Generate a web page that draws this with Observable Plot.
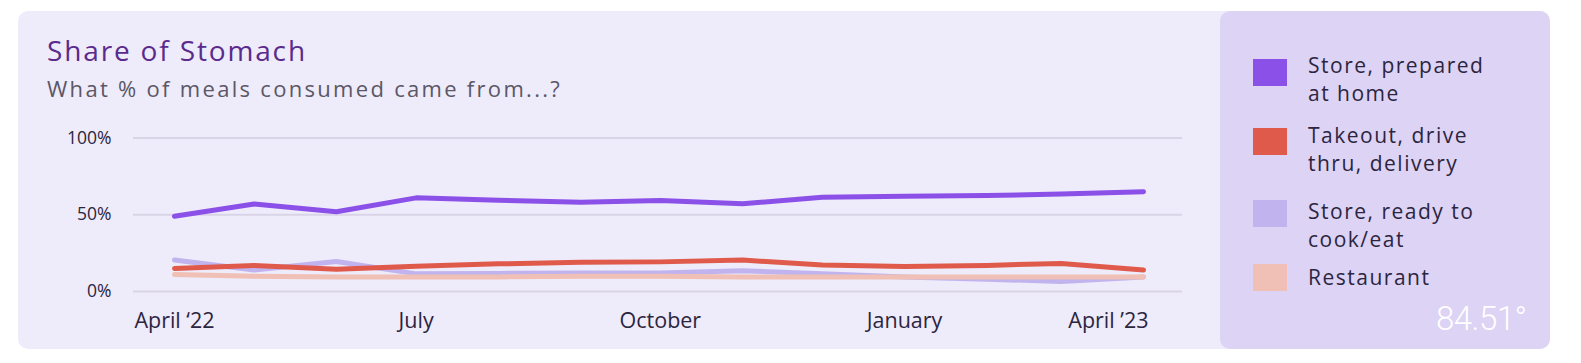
<!DOCTYPE html>
<html>
<head>
<meta charset="utf-8">
<script src="https://cdn.jsdelivr.net/npm/d3@7"></script>
<script src="https://cdn.jsdelivr.net/npm/@observablehq/plot@0.6"></script>
<style>
  html, body { margin: 0; padding: 0; background: #ffffff; }
  body { width: 1581px; height: 363px; position: relative; overflow: hidden; font-family: "Open Sans", Lato, sans-serif; }
  .card { position: absolute; left: 18px; top: 11px; width: 1532px; height: 338px; border-radius: 10px; background: #EEEBFA; }
  .legendPanel { position: absolute; left: 1220px; top: 11px; width: 330px; height: 338px; border-radius: 10px; background: #DDD3F5; }
  .title { position: absolute; left: 47px; top: 35px; font-size: 28px; line-height: 30px; color: #5A2A8C; letter-spacing: 1.85px; }
  .subtitle { position: absolute; left: 47px; top: 75px; font-size: 22px; line-height: 26px; color: #5B5766; letter-spacing: 2.3px; }
  #chart { position: absolute; left: 0; top: 0; }
  .lg { position: absolute; left: 1253px; }
  .sw { position: absolute; left: 0; width: 34px; height: 27px; }
  .lt { position: absolute; left: 55px; width: 260px; font-size: 21px; line-height: 28px; color: #2B2540; letter-spacing: 1.5px; white-space: pre-line; }
  .logo { position: absolute; left: 1436px; top: 301px; font-family: Roboto, sans-serif; font-weight: 300; font-size: 33px; line-height: 36px; color: #ffffff; letter-spacing: -0.5px; }
</style>
</head>
<body>
<div class="card"></div>
<div class="legendPanel"></div>
<div class="title" id="title"></div>
<div class="subtitle" id="subtitle"></div>
<div id="chart"></div>
<div id="legend"></div>
<div class="logo" id="logo"></div>
<script>
// ---- data ----
const titleText = "Share of Stomach";
const subtitleText = "What % of meals consumed came from...?";
const months = ["2022-04-01","2022-05-01","2022-06-01","2022-07-01","2022-08-01","2022-09-01","2022-10-01","2022-11-01","2022-12-01","2023-01-01","2023-02-01","2023-03-01","2023-04-01"];
const seriesNames = ["Store, prepared\nat home", "Takeout, drive\nthru, delivery", "Store, ready to\ncook/eat", "Restaurant"];
const seriesColors = ["#8A50E8", "#DF5A4A", "#C1B3EE", "#F0BFB6"];
const storePrepared = [49, 57, 52, 61, 59.5, 58.2, 59.3, 57.1, 61.4, 62, 62.5, 63.5, 65];
const takeout = [15, 17, 14.5, 16.5, 18, 19, 19.3, 20.5, 17.2, 16.3, 17, 18.3, 14];
const readyToEat = [20.5, 14, 19.5, 11.5, 11.8, 12, 12, 13.5, 11.5, 9.5, 8, 6.5, 9.5];
const restaurant = [11, 10, 9.5, 9.5, 9.5, 10, 10, 9.5, 9.5, 9.5, 9.5, 9.5, 9.5];
const yTicks = [0, 50, 100];
const xTickDates = ["2022-04-01", "2022-07-01", "2022-10-01", "2023-01-01"];
const xTickLabels = ["April \u201822", "July", "October", "January"];
const xLastTickDate = ["2023-04-01"];
const xLastTickLabel = ["April \u201923"];
const logoText = "84.51\u00B0";

document.getElementById("title").textContent = titleText;
document.getElementById("subtitle").textContent = subtitleText;
document.getElementById("logo").textContent = logoText;

const parse = d3.utcParse("%Y-%m-%d");
const dates = months.map(parse);
const allValues = [storePrepared, takeout, readyToEat, restaurant];
const table = (vals, name) => vals.map((v, i) => ({date: dates[i], value: v, series: name}));
const tables = allValues.map((v, i) => table(v, seriesNames[i]));
const drawOrder = [2, 3, 1, 0];

const fontFamily = "'Open Sans', Lato, sans-serif";
const chart = Plot.plot({
  width: 1220,
  height: 363,
  marginLeft: 133,
  marginRight: 38,
  marginTop: 137.5,
  marginBottom: 72,
  style: { background: "transparent", fontFamily, fontSize: "17px", color: "#2B2540", overflow: "visible" },
  x: { type: "utc", domain: [dates[0], dates[dates.length - 1]], insetLeft: 41, insetRight: 39, axis: null },
  y: { domain: [0, 100], axis: null },
  color: { domain: seriesNames, range: seriesColors },
  marks: [
    Plot.ruleY(yTicks, { stroke: "#D9D5E6", strokeWidth: 2 }),
    Plot.axisY(yTicks, { tickSize: 0, tickPadding: 22, tickFormat: d => d + "%", label: null, fontSize: 17.5, fill: "#2B2540" }),
    ...drawOrder.map(i => Plot.line(tables[i], {
      x: "date", y: "value", stroke: "series",
      strokeWidth: 5, strokeLinecap: "round", strokeLinejoin: "round"
    })),
    Plot.text(xTickDates.map(parse), {
      x: d => d, text: (d, i) => xTickLabels[i], frameAnchor: "bottom", dy: 36,
      textAnchor: "middle", fontSize: 21.5, letterSpacing: 1.8, fill: "#2B2540"
    }),
    Plot.text(xLastTickDate.map(parse), {
      x: d => d, text: (d, i) => xLastTickLabel[i], frameAnchor: "bottom", dy: 36,
      textAnchor: "end", dx: 5, fontSize: 21.5, letterSpacing: 1.8, fill: "#2B2540"
    })
  ]
});
document.getElementById("chart").appendChild(chart);

// legend (HTML), built from the same series arrays
const legendTops = [51, 121, 197, 263];
const swatchOffsets = [8, 7, 3, 1];
const legend = document.getElementById("legend");
seriesNames.forEach((name, i) => {
  const g = document.createElement("div");
  g.className = "lg";
  g.style.top = legendTops[i] + "px";
  const sw = document.createElement("div");
  sw.className = "sw";
  sw.style.top = swatchOffsets[i] + "px";
  sw.style.background = seriesColors[i];
  const t = document.createElement("div");
  t.className = "lt";
  t.style.top = "0px";
  t.textContent = name;
  g.appendChild(sw);
  g.appendChild(t);
  legend.appendChild(g);
});
</script>
</body>
</html>
